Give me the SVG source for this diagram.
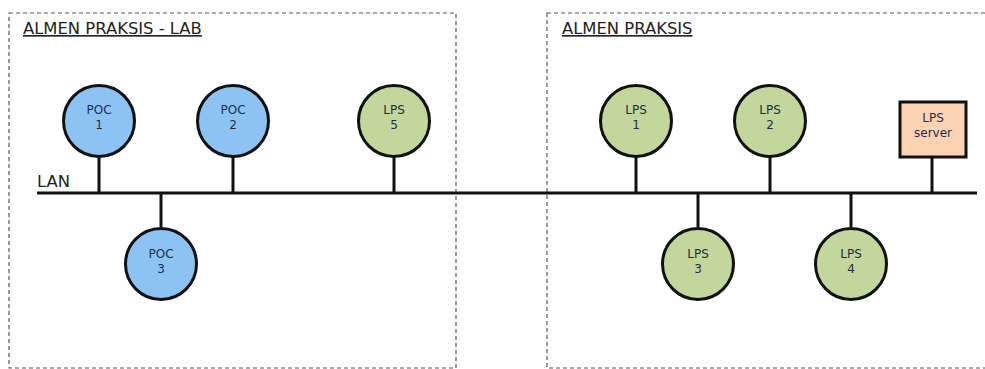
<svg xmlns="http://www.w3.org/2000/svg" width="985" height="369" viewBox="0 0 985 369">
  <style>
    .zone { fill: none; stroke: #555; stroke-width: 1.2; stroke-dasharray: 4 3; }
    .title { font-family: "DejaVu Sans", Verdana, sans-serif; font-size: 16.4px; fill: #222; text-decoration: underline; }
    .lan { stroke: #111; stroke-width: 3.2; fill: none; }
    .stem { stroke: #111; stroke-width: 3; fill: none; }
    .poc { fill: #8dc3f3; stroke: #111; stroke-width: 3; }
    .lps { fill: #c3d69b; stroke: #111; stroke-width: 3; }
    .srv { fill: #fbd3b2; stroke: #111; stroke-width: 3; }
    .lbl { font-family: "DejaVu Sans", Verdana, sans-serif; font-size: 12px; fill: #1e2d4d; text-anchor: middle; }
    .lanlbl { font-family: "DejaVu Sans", Verdana, sans-serif; font-size: 16.4px; fill: #222; }
  </style>

  <!-- site boundaries -->
  <g id="zones">
    <rect class="zone" x="9" y="13" width="447" height="355"/>
    <text class="title" x="23" y="34">ALMEN PRAKSIS - LAB</text>
    <rect class="zone" x="547" y="13" width="445" height="355"/>
    <text class="title" x="562" y="34">ALMEN PRAKSIS</text>
  </g>

  <!-- shared network bus and drops -->
  <g id="connectors">
    <line class="lan" x1="37" y1="193" x2="977" y2="193"/>
    <line class="stem" x1="99" y1="157" x2="99" y2="193"/>
    <line class="stem" x1="233" y1="157" x2="233" y2="193"/>
    <line class="stem" x1="394" y1="157" x2="394" y2="193"/>
    <line class="stem" x1="161" y1="193" x2="161" y2="227"/>
    <line class="stem" x1="636" y1="157" x2="636" y2="193"/>
    <line class="stem" x1="770" y1="157" x2="770" y2="193"/>
    <line class="stem" x1="932" y1="157" x2="932" y2="193"/>
    <line class="stem" x1="698" y1="193" x2="698" y2="227"/>
    <line class="stem" x1="851" y1="193" x2="851" y2="227"/>
  </g>
  <text class="lanlbl" x="37" y="187">LAN</text>

  <g id="poc1">
    <circle class="poc" cx="99" cy="121" r="35.5"/>
    <text class="lbl" x="99" y="114">POC</text>
    <text class="lbl" x="99" y="129">1</text>
  </g>
  <g id="poc2">
    <circle class="poc" cx="233" cy="121" r="35.5"/>
    <text class="lbl" x="233" y="114">POC</text>
    <text class="lbl" x="233" y="129">2</text>
  </g>
  <g id="poc3">
    <circle class="poc" cx="161" cy="264" r="35.5"/>
    <text class="lbl" x="161" y="258">POC</text>
    <text class="lbl" x="161" y="273">3</text>
  </g>
  <g id="lps5">
    <circle class="lps" cx="394" cy="121" r="35.5"/>
    <text class="lbl" x="394" y="114">LPS</text>
    <text class="lbl" x="394" y="129">5</text>
  </g>
  <g id="lps1">
    <circle class="lps" cx="636" cy="121" r="35.5"/>
    <text class="lbl" x="636" y="114">LPS</text>
    <text class="lbl" x="636" y="129">1</text>
  </g>
  <g id="lps2">
    <circle class="lps" cx="770" cy="121" r="35.5"/>
    <text class="lbl" x="770" y="114">LPS</text>
    <text class="lbl" x="770" y="129">2</text>
  </g>
  <g id="lps3">
    <circle class="lps" cx="698" cy="264" r="35.5"/>
    <text class="lbl" x="698" y="258">LPS</text>
    <text class="lbl" x="698" y="273">3</text>
  </g>
  <g id="lps4">
    <circle class="lps" cx="851" cy="264" r="35.5"/>
    <text class="lbl" x="851" y="258">LPS</text>
    <text class="lbl" x="851" y="273">4</text>
  </g>
  <g id="lps-server">
    <rect class="srv" x="900" y="102" width="66" height="55"/>
    <text class="lbl" x="933" y="122">LPS</text>
    <text class="lbl" x="933" y="137">server</text>
  </g>
</svg>
